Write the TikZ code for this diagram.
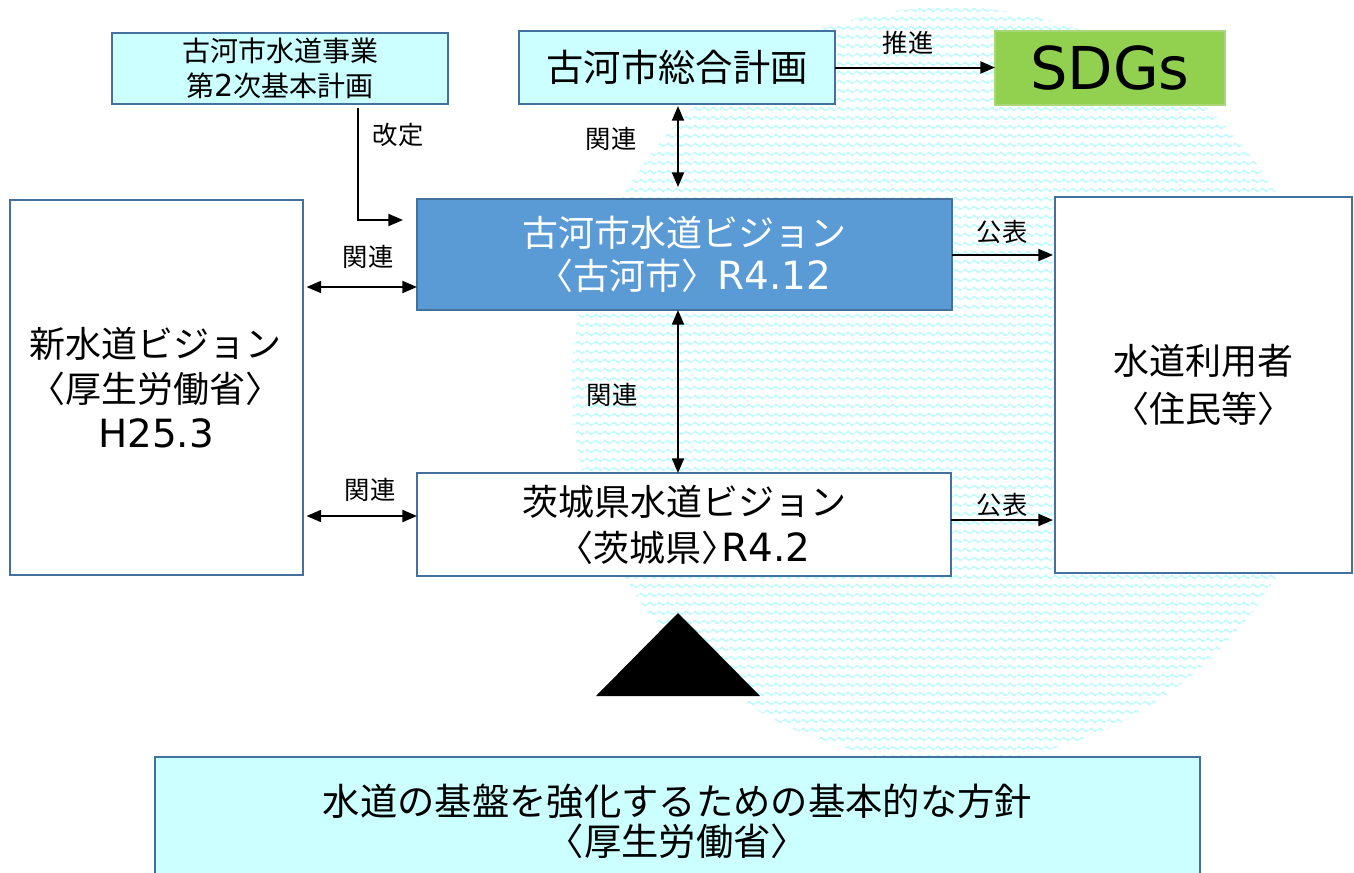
\documentclass[tikz,border=0pt]{standalone}
\usepackage{fontspec}
\setmainfont{Noto Sans CJK JP}
\newfontfamily\lat{DejaVu Sans}[Scale=1.08]
\usetikzlibrary{arrows.meta,patterns}
\definecolor{bordc}{RGB}{65,113,156}
\definecolor{lcyan}{RGB}{204,255,255}
\definecolor{vblue}{RGB}{91,155,213}
\definecolor{sgreen}{RGB}{146,208,80}
\definecolor{sgreenb}{RGB}{169,214,120}
\definecolor{wavec}{RGB}{184,250,255}
\pgfdeclarepatternformonly{wavelines}{\pgfqpoint{0pt}{0pt}}{\pgfqpoint{6.75pt}{6.4pt}}{\pgfqpoint{6.75pt}{6.4pt}}{%
  \pgfsetlinewidth{1.15pt}%
  \pgfpathmoveto{\pgfqpoint{0pt}{3.2pt}}%
  \pgfpathcurveto{\pgfqpoint{1.1pt}{4.8pt}}{\pgfqpoint{2.27pt}{4.8pt}}{\pgfqpoint{3.375pt}{3.2pt}}%
  \pgfpathcurveto{\pgfqpoint{4.48pt}{1.6pt}}{\pgfqpoint{5.65pt}{1.6pt}}{\pgfqpoint{6.75pt}{3.2pt}}%
  \pgfusepath{stroke}%
}
\begin{document}
\begin{tikzpicture}[x=0.75pt,y=-0.75pt,
  box/.style={draw=bordc, line width=1.5pt, inner sep=0pt, outer sep=0pt, align=center, text=black},
  lbl/.style={font=\fontsize{19}{22}\selectfont, inner sep=0pt, text=black},
  arr/.style={line width=1.5pt, -{Triangle[length=11pt,width=9pt]}},
  darr/.style={line width=1.5pt, {Triangle[length=11pt,width=9pt]}-{Triangle[length=11pt,width=9pt]}}]
\useasboundingbox (0,0) rectangle (1354,872);
\fill[white] (0,0) rectangle (1354,872);
% patterned circle
\fill[pattern=wavelines, pattern color=wavec] (950,385) circle[radius=283.5pt];
% boxes
\node[box, fill=lcyan, minimum width=252pt, minimum height=53.25pt,
  font=\fontsize{21}{26}\selectfont] (A) at (280,68.5) {古河市水道事業\\第{\lat 2}次基本計画};
\node[box, fill=lcyan, minimum width=237pt, minimum height=54.75pt,
  font=\fontsize{28}{32}\selectfont] (B) at (677,67.5) {古河市総合計画};
\node[box, draw=sgreenb, fill=sgreen, minimum width=172.5pt, minimum height=55.5pt,
  font=\fontsize{41}{46}\selectfont] (S) at (1110,68) {\lat SDGs};
\node[box, fill=vblue, text=white, minimum width=401.25pt, minimum height=83.25pt,
  font=\fontsize{27}{32}\selectfont] (C) at (684.5,254.5) {古河市水道ビジョン\\〈古河市〉{\lat R4.12}};
\node[box, fill=white, minimum width=219.75pt, minimum height=281.25pt,
  font=\fontsize{27}{34}\selectfont] (D) at (156,387.5) {新水道ビジョン\\〈厚生労働省〉\\{\lat H25.3}};
\node[box, fill=white, minimum width=400.5pt, minimum height=77.25pt,
  font=\fontsize{27}{34.5}\selectfont] (E) at (684,524.5) {茨城県水道ビジョン\\〈茨城県〉\kern-0.45em{\lat R4.2}};
\node[box, fill=white, minimum width=222.75pt, minimum height=282pt,
  font=\fontsize{27}{36}\selectfont] (F) at (1203.5,385) {水道利用者\\〈住民等〉};
\node[box, fill=lcyan, minimum width=783.75pt, minimum height=96pt,
  font=\fontsize{28}{30}\selectfont] (G) at (677.5,821) {水道の基盤を強化するための基本的な方針\\〈厚生労働省〉};
% triangle
\fill[black] (678,613) -- (596,696) -- (760,696) -- cycle;
% helper coordinates
\coordinate (k1) at (358,220);
\coordinate (k2) at (678,0);
\coordinate (k3) at (0,287);
\coordinate (k4) at (0,516);
\coordinate (k5) at (0,255);
\coordinate (k6) at (0,520);
% connectors
\draw[arr, shorten <=3pt, shorten >=10.5pt] (A.south -| k1) |- (C.west |- k1);
\draw[darr, shorten <=1.5pt, shorten >=9pt] (B.south -| k2) -- (C.north -| k2);
\draw[darr] (C.south -| k2) -- (E.north -| k2);
\draw[darr, shorten <=3pt] (D.east |- k3) -- (C.west |- k3);
\draw[darr, shorten <=3pt] (D.east |- k4) -- (E.west |- k4);
\draw[arr, shorten >=1.5pt] (C.east |- k5) -- (F.west |- k5);
\draw[arr, shorten >=1.5pt] (E.east |- k6) -- (F.west |- k6);
\draw[arr] (B.east) -- (S.west |- B.east);
% labels
\node[lbl] (l1) at (398,135) {改定};
\node[lbl] (l2) at (611,139) {関連};
\node[lbl] (l3) at (908,43) {推進};
\node[lbl] (l4) at (368,257) {関連};
\node[lbl] (l5) at (370,490) {関連};
\node[lbl] (l6) at (612,395) {関連};
\node[lbl] (l7) at (1002,232) {公表};
\node[lbl] (l8) at (1002,505) {公表};
\end{tikzpicture}
\end{document}
